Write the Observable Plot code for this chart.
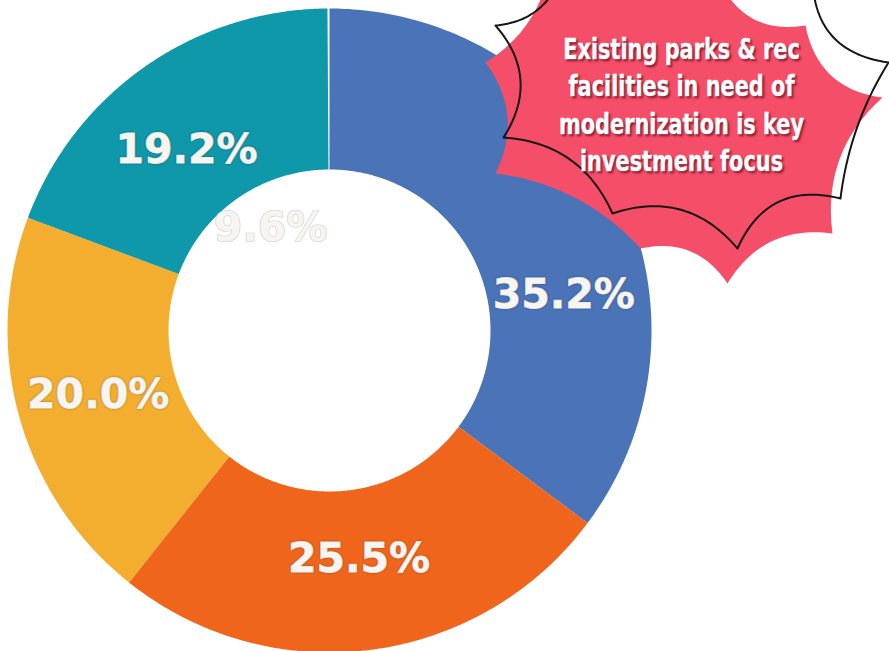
<!DOCTYPE html>
<html><head><meta charset="utf-8">
<script src="https://cdn.jsdelivr.net/npm/d3@7"></script>
<script src="https://cdn.jsdelivr.net/npm/@observablehq/plot@0.6"></script>
<style>
html,body{margin:0;padding:0;background:#fff;}
#chart svg{display:block;}
.pct text{ text-shadow: 0 0 2px rgba(40,40,40,0.35); }
.stray text{ paint-order: stroke; }
.callout text{ text-shadow: 2px 2px 2px rgba(90,10,25,0.6); }
</style></head><body><div id="chart"></div>
<script>
// ---- data ----
const shareLabels = ["35.2%", "25.5%", "20.0%", "19.2%"];
const shareValues = [35.2, 25.5, 20.0, 19.2];
const strayLabel = "9.6%";
const calloutLines = ["Existing parks & rec", "facilities in need of", "modernization is key", "investment focus"];
const palette = ["#4A73B8", "#F0651C", "#F4AE2F", "#0F97AA"];

// ---- layout ----
const W = 889, H = 651;
const donut = {cx: 329, cy: 330, outer: 322, inner: 161};
const labelPlacement = [{shift: 18, r: 237}, {shift: 0, r: 230}, {shift: 0, r: 240}, {shift: -3.5, r: 230}];
const strayPlacement = {angle: 330, r: 118};
const star = {
  fill: "#F54E69",
  center: [688, 130],
  depths: [6, 19, 19, 19, 19, 16, 15, 17, 11],
  tips: [[548,-25],[718,-22],[805,25],[882,97],[832,233],[727,283],[640,248],[495,173],[485,62]]
};
const outline = {
  center: [690, 110],
  depths: [20, 20, 25, 8, 24, 22, 20, 21, 12],
  tips: [[560,-22],[690,-45],[812,-25],[888,62],[840,198],[737,248],[612,213],[503,137],[495,25]]
};
const callout = {x: 681, y0: 49, step: 37.5, size: 29, squeeze: 0.8};

// ---- geometry derived from the values ----
const rad = d => d * Math.PI / 180;
const arcRows = [];
const labelRows = [];
let cum = 0;
shareValues.forEach((v, i) => {
  const a0 = cum / 100 * 2 * Math.PI, a1 = (cum + v) / 100 * 2 * Math.PI;
  const n = 180;
  for (let k = 0; k <= n; k++) {
    const a = a0 + (a1 - a0) * k / n;
    arcRows.push({key: shareLabels[i], x: donut.cx + donut.outer * Math.sin(a), y: donut.cy - donut.outer * Math.cos(a)});
  }
  for (let k = n; k >= 0; k--) {
    const a = a0 + (a1 - a0) * k / n;
    arcRows.push({key: shareLabels[i], x: donut.cx + donut.inner * Math.sin(a), y: donut.cy - donut.inner * Math.cos(a)});
  }
  const mid = (cum + v / 2) / 100 * 360 + labelPlacement[i].shift;
  const r = labelPlacement[i].r;
  labelRows.push({label: shareLabels[i], x: donut.cx + r * Math.sin(rad(mid)), y: donut.cy - r * Math.cos(rad(mid))});
  cum += v;
});
const strayRows = [{label: strayLabel,
  x: donut.cx + strayPlacement.r * Math.sin(rad(strayPlacement.angle)),
  y: donut.cy - strayPlacement.r * Math.cos(rad(strayPlacement.angle))}];

function starburst(tips, center, depths, seg = 30) {
  const pts = [];
  for (let i = 0; i < tips.length; i++) {
    const p0 = tips[i], p1 = tips[(i + 1) % tips.length];
    const mx = (p0[0] + p1[0]) / 2, my = (p0[1] + p1[1]) / 2;
    const dx = p1[0] - p0[0], dy = p1[1] - p0[1], L = Math.hypot(dx, dy);
    let nx = -dy / L, ny = dx / L;
    if ((center[0] - mx) * nx + (center[1] - my) * ny < 0) { nx = -nx; ny = -ny; }
    const d = depths[i];
    const c = [mx + nx * 2 * d, my + ny * 2 * d];
    for (let k = 0; k < seg; k++) {
      const t = k / seg, u = 1 - t;
      pts.push({x: u*u*p0[0] + 2*u*t*c[0] + t*t*p1[0], y: u*u*p0[1] + 2*u*t*c[1] + t*t*p1[1]});
    }
  }
  pts.push({...pts[0]});
  return pts;
}
const starPts = starburst(star.tips, star.center, star.depths);
const outlinePts = starburst(outline.tips, outline.center, outline.depths);
const calloutRows = calloutLines.map((t, i) => ({t, x: callout.x, y: callout.y0 + i * callout.step}));

const chart = Plot.plot({
  width: W, height: H,
  margin: 0,
  x: {type: "linear", domain: [0, W], range: [0, W], axis: null},
  y: {type: "linear", domain: [0, H], range: [0, H], axis: null},
  color: {domain: shareLabels, range: palette},
  style: {background: "#fff"},
  marks: [
    Plot.line(arcRows, {x: "x", y: "y", z: "key", fill: "key", stroke: "none", curve: "linear"}),
    Plot.text(strayRows, {x: "x", y: "y", text: "label", fill: "#F7F5F1", stroke: "#CFCCC8", strokeWidth: 1.2,
      fontSize: 41, fontWeight: "bold", fontFamily: "DejaVu Sans", textAnchor: "middle", lineAnchor: "middle", className: "stray"}),
    Plot.text(labelRows, {x: "x", y: "y", text: "label", fill: "#F7F5F1", stroke: "#F7F5F1", strokeWidth: 0.8,
      fontSize: 41, fontWeight: "bold", fontFamily: "DejaVu Sans", textAnchor: "middle", lineAnchor: "middle", className: "pct"}),
    Plot.line(starPts, {x: "x", y: "y", fill: star.fill, stroke: "none"}),
    Plot.line(outlinePts, {x: "x", y: "y", fill: "none", stroke: "#161616", strokeWidth: 2}),
    Plot.text(calloutRows, {x: "x", y: "y", text: "t", fill: "#FFFFFF", stroke: "#FFFFFF", strokeWidth: 0.5,
      fontSize: callout.size, fontWeight: "bold", fontFamily: "'Liberation Sans Narrow', 'DejaVu Sans Condensed', 'Roboto', sans-serif",
      textAnchor: "middle", lineAnchor: "middle", className: "callout"})
  ]
});
// condense the callout lettering horizontally around each line's anchor
chart.querySelectorAll(".callout text").forEach(t => {
  const tr = t.getAttribute("transform");
  if (tr) {
    t.setAttribute("transform", `${tr} scale(${callout.squeeze},1)`);
  } else {
    const x = +t.getAttribute("x") || 0;
    t.setAttribute("x", 0);
    t.setAttribute("transform", `translate(${x},0) scale(${callout.squeeze},1)`);
  }
});
document.getElementById("chart").appendChild(chart);
</script></body></html>
